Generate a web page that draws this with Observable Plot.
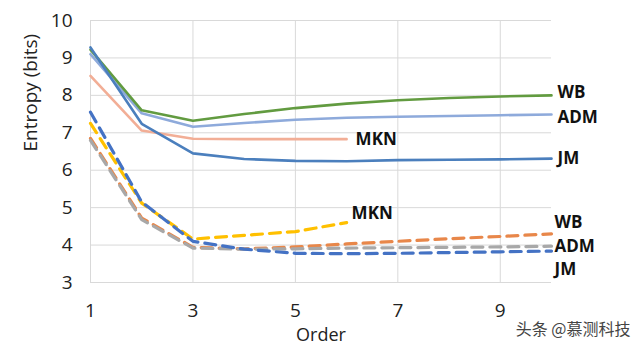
<!DOCTYPE html>
<html>
<head>
<meta charset="utf-8">
<script src="https://cdn.jsdelivr.net/npm/d3@7"></script>
<script src="https://cdn.jsdelivr.net/npm/@observablehq/plot@0.6"></script>
<style>
  html, body { margin: 0; padding: 0; background: #fff; }
  #chart { width: 640px; height: 354px; overflow: hidden; }
</style>
</head>
<body>
<div id="chart"></div>
<script>
const orders = [1, 2, 3, 4, 5, 6, 7, 8, 9, 10];
const xTicks = [1, 3, 5, 7, 9];
const yTicks = [3, 4, 5, 6, 7, 8, 9, 10];

// Solid lines
const wbSolid  = [9.22, 7.60, 7.32, 7.50, 7.66, 7.78, 7.87, 7.93, 7.97, 8.00];
const admSolid = [9.10, 7.52, 7.16, 7.26, 7.35, 7.40, 7.43, 7.45, 7.47, 7.49];
const mknSolid = [8.52, 7.06, 6.84, 6.83, 6.83, 6.83];
const jmSolid  = [9.28, 7.24, 6.45, 6.30, 6.25, 6.24, 6.27, 6.28, 6.29, 6.31];

// Dashed lines
const mknDashed = [7.25, 5.12, 4.16, 4.26, 4.36, 4.60];
const wbDashed  = [6.85, 4.72, 3.94, 3.90, 3.95, 4.03, 4.10, 4.17, 4.23, 4.30];
const admDashed = [6.80, 4.68, 3.92, 3.89, 3.90, 3.92, 3.93, 3.94, 3.95, 3.97];
const jmDashed  = [7.55, 5.15, 4.10, 3.89, 3.78, 3.77, 3.78, 3.80, 3.82, 3.84];

const seriesTable = (vals) => vals.map((v, i) => ({x: orders[i], y: v}));
const lastPoint = (vals) => [{x: orders[vals.length - 1], y: vals[vals.length - 1]}];

const font = "'Open Sans', 'Liberation Sans', sans-serif";
const solidW = 2.6, dashW = 3.2, dash = "11,7";

const solidLine = (vals, color) => Plot.line(seriesTable(vals), {x: "x", y: "y", stroke: color, strokeWidth: solidW});
const dashedLine = (vals, color) => Plot.line(seriesTable(vals), {x: "x", y: "y", stroke: color, strokeWidth: dashW, strokeDasharray: dash});
const endLabel = (vals, label, dx, dy, size = 17) => Plot.text(lastPoint(vals), {
  x: "x", y: "y", text: () => label, textAnchor: "start", dx, dy,
  fontSize: size, fontWeight: "bold", fill: "#111", fontFamily: font
});

const chart = Plot.plot({
  width: 640,
  height: 354,
  marginLeft: 90,
  marginRight: 89,
  marginTop: 20,
  marginBottom: 72,
  style: {fontFamily: font, background: "#fff"},
  x: {domain: [1, 10]},
  y: {domain: [3, 10]},
  marks: [
    Plot.gridX(xTicks, {stroke: "#d9d9d9", strokeOpacity: 1, strokeWidth: 1}),
    Plot.gridY(yTicks, {stroke: "#d9d9d9", strokeOpacity: 1, strokeWidth: 1}),
    Plot.axisX(xTicks, {tickSize: 0, tickPadding: 21, fontSize: 19, fill: "#222", label: null}),
    Plot.axisY(yTicks, {tickSize: 0, tickPadding: 18, fontSize: 19, fill: "#222", label: null}),
    Plot.text(["Order"], {frameAnchor: "bottom", dy: 58, fontSize: 18, fill: "#222", fontFamily: font}),
    Plot.text(["Entropy (bits)"], {frameAnchor: "left", dx: -60, rotate: -90, fontSize: 19, fill: "#222", fontFamily: font}),

    solidLine(mknSolid, "#f2ae96"),
    solidLine(admSolid, "#8eaadb"),
    solidLine(wbSolid, "#629b40"),
    solidLine(jmSolid, "#4b7fbd"),

    dashedLine(wbDashed, "#e8874a"),
    dashedLine(admDashed, "#a8a8a8"),
    dashedLine(mknDashed, "#ffc000"),
    dashedLine(jmDashed, "#4472c4"),

    endLabel(wbSolid, "WB", 6, -3),
    endLabel(admSolid, "ADM", 6, 3),
    endLabel(jmSolid, "JM", 6, 0),
    endLabel(mknSolid, "MKN", 9, 0),
    endLabel(mknDashed, "MKN", 5, -9),
    endLabel(wbDashed, "WB", 3, -11),
    endLabel(admDashed, "ADM", 3, 0),
    endLabel(jmDashed, "JM", 3, 18),

    Plot.text(["头条 @慕测科技"], {
      frameAnchor: "bottom-right", dx: 79, dy: 52, textAnchor: "end",
      fontSize: 16, fill: "#444", stroke: "#fff", strokeWidth: 2,
      fontFamily: "'Noto Sans CJK SC', sans-serif"
    })
  ]
});
document.getElementById("chart").appendChild(chart);
</script>
</body>
</html>
